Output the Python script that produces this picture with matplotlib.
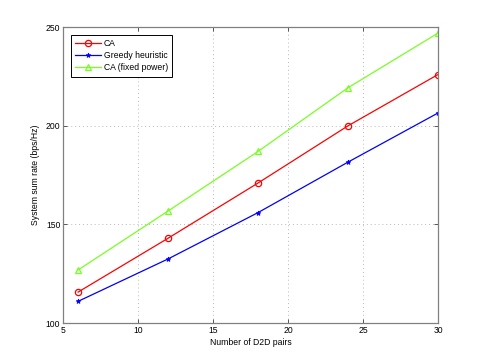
import numpy as np
import matplotlib
matplotlib.use("Agg")
import matplotlib.pyplot as plt

plt.rcParams['font.family'] = ['Liberation Sans', 'DejaVu Sans']

# Data
pairs = [6, 12, 18, 24, 30]
ca = [115.7, 143.0, 171.0, 200.0, 226.0]
greedy = [111.0, 132.5, 156.0, 181.6, 206.5]
ca_fixed = [126.9, 156.8, 187.0, 219.3, 247.0]

fs = 6.2

fig = plt.figure(figsize=(4.85, 3.63), dpi=100)
ax = fig.add_axes([0.13, 0.110, 0.773, 0.815])

ax.plot(pairs, ca, color='#ff0000', lw=0.9, marker='o', ms=4.5,
        mfc='none', mew=0.9, label='CA')
ax.plot(pairs, greedy, color='#0000ff', lw=0.9, marker='*', ms=3.5,
        mew=0.6, label='Greedy heuristic')
ax.plot(pairs, ca_fixed, color='#77ff22', lw=0.9, marker='^', ms=5,
        mfc='none', mew=0.9, label='CA (fixed power)')

ax.set_xlim(5, 30)
ax.set_ylim(100, 250)
ax.set_xticks([5, 10, 15, 20, 25, 30])
ax.set_yticks([100, 150, 200, 250])
ax.grid(True, ls=(0, (1, 3)), color='#b8b8b8', lw=0.7)
ax.tick_params(direction='in', top=True, right=True, labelsize=fs,
               length=3, color='#555555', width=0.7, pad=2)
for s in ax.spines.values():
    s.set_color('#808080')
    s.set_linewidth(0.9)

ax.set_xlabel('Number of D2D pairs', fontsize=fs, labelpad=2)
ax.set_ylabel('System sum rate (bps/Hz)', fontsize=fs, labelpad=4)

leg = ax.legend(loc='upper left', fontsize=fs, fancybox=False,
                edgecolor='black', framealpha=1, borderpad=0.5,
                handlelength=3.0, handletextpad=0.3, labelspacing=0.35,
                borderaxespad=0.9)
leg.get_frame().set_linewidth(0.7)

fig.savefig('out.png', dpi=100)
